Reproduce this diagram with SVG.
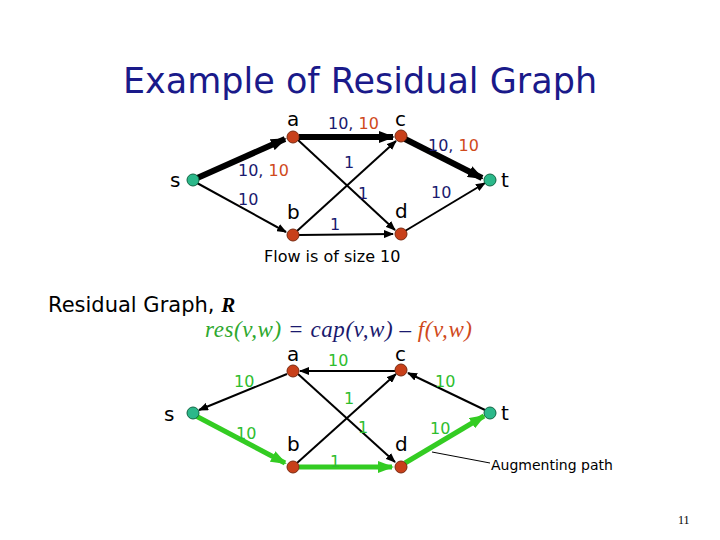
<svg xmlns="http://www.w3.org/2000/svg" width="720" height="540" viewBox="0 0 720 540">
<defs>
<style>
.t{font-family:"DejaVu Sans",sans-serif;}
.lbl{font-family:"DejaVu Sans",sans-serif;font-size:20px;fill:#000;}
.num{font-family:"DejaVu Sans",sans-serif;font-size:16px;}
.nv{fill:#1a1a6e}.rd{fill:#d04a1c}.gr{fill:#2ebd2e}
.e{stroke:#000;stroke-width:2;fill:none;marker-end:url(#ar)}
.eb{stroke:#000;stroke-width:6;fill:none;marker-end:url(#arb)}
.eg{stroke:#33cc22;stroke-width:5;fill:none;marker-end:url(#arg)}
.red{fill:#c8401a;stroke:#7a2a10;stroke-width:1}
.grn{fill:#2bb88a;stroke:#116644;stroke-width:1}
</style>
<marker id="ar" markerWidth="10" markerHeight="8" refX="9" refY="4" orient="auto" markerUnits="userSpaceOnUse"><path d="M0,0L10,4L0,8z" fill="#000"/></marker>
<marker id="arb" markerWidth="16" markerHeight="12" refX="14" refY="6" orient="auto" markerUnits="userSpaceOnUse"><path d="M0,0L16,6L0,12z" fill="#000"/></marker>
<marker id="arg" markerWidth="16" markerHeight="12" refX="14" refY="6" orient="auto" markerUnits="userSpaceOnUse"><path d="M0,0L16,6L0,12z" fill="#33cc22"/></marker>
</defs>
<rect width="720" height="540" fill="#fff"/>
<text class="t" x="360" y="93" font-size="35" fill="#1a1a8a" text-anchor="middle">Example of Residual Graph</text>
<g id="connectors">
<line class="eb" x1="195" y1="179" x2="285" y2="139"/>
<line class="eb" x1="299" y1="137" x2="393" y2="137"/>
<line class="eb" x1="405" y1="139" x2="482" y2="178"/>
<line class="e" x1="197" y1="183" x2="286" y2="232"/>
<line class="e" x1="298" y1="140" x2="395" y2="230"/>
<line class="e" x1="297" y1="231" x2="396" y2="141"/>
<line class="e" x1="299" y1="235" x2="393" y2="234"/>
<line class="e" x1="405" y1="231" x2="485" y2="183"/>
<line class="e" x1="287" y1="374" x2="199" y2="410"/>
<line class="e" x1="395" y1="371" x2="300" y2="371"/>
<line class="e" x1="485" y1="410" x2="408" y2="373"/>
<line class="e" x1="298" y1="374" x2="395" y2="462"/>
<line class="e" x1="297" y1="463" x2="396" y2="374"/>
<line class="eg" x1="196" y1="416" x2="285" y2="463"/>
<line class="eg" x1="299" y1="467" x2="392" y2="467"/>
<line class="eg" x1="405" y1="463" x2="484" y2="416"/>
<line x1="432" y1="452" x2="490" y2="463" stroke="#000" stroke-width="1"/>
</g>
<g id="s1"><circle class="grn" cx="193" cy="180" r="6"/><text class="lbl" x="170" y="187">s</text></g>
<g id="a1"><circle class="red" cx="293" cy="137" r="6"/><text class="lbl" x="287" y="126">a</text></g>
<g id="c1"><circle class="red" cx="401" cy="136" r="6"/><text class="lbl" x="395" y="126">c</text></g>
<g id="t1"><circle class="grn" cx="490" cy="180" r="6"/><text class="lbl" x="501" y="187">t</text></g>
<g id="b1"><circle class="red" cx="293" cy="235" r="6"/><text class="lbl" x="287" y="219">b</text></g>
<g id="d1"><circle class="red" cx="401" cy="234" r="6"/><text class="lbl" x="395" y="218">d</text></g>
<g id="labels1" class="num">
<text x="328" y="129"><tspan class="nv">10, </tspan><tspan class="rd">10</tspan></text>
<text x="428" y="151"><tspan class="nv">10, </tspan><tspan class="rd">10</tspan></text>
<text x="238" y="176"><tspan class="nv">10, </tspan><tspan class="rd">10</tspan></text>
<text class="nv" x="238" y="205">10</text>
<text class="nv" x="344" y="168">1</text>
<text class="nv" x="358" y="199">1</text>
<text class="nv" x="330" y="230">1</text>
<text class="nv" x="431" y="198">10</text>
</g>
<text class="t" x="264" y="262" font-size="16" fill="#000">Flow is of size 10</text>
<text class="t" x="48" y="312" font-size="21" fill="#000">Residual Graph, <tspan font-family="Liberation Serif,serif" font-weight="bold" font-style="italic">R</tspan></text>
<text x="205" y="337" font-family="Liberation Serif,serif" font-style="italic" font-size="23" textLength="267"><tspan fill="#2ea82e">res(v,w)</tspan><tspan fill="#1a1a6e"> = cap(v,w) – </tspan><tspan fill="#d04a1c">f(v,w)</tspan></text>
<g id="s2"><circle class="grn" cx="193" cy="413" r="6"/><text class="lbl" x="164" y="421">s</text></g>
<g id="a2"><circle class="red" cx="293" cy="371" r="6"/><text class="lbl" x="287" y="361">a</text></g>
<g id="c2"><circle class="red" cx="401" cy="370" r="6"/><text class="lbl" x="395" y="361">c</text></g>
<g id="t2"><circle class="grn" cx="490" cy="413" r="6"/><text class="lbl" x="501" y="420">t</text></g>
<g id="b2"><circle class="red" cx="293" cy="467" r="6"/><text class="lbl" x="287" y="451">b</text></g>
<g id="d2"><circle class="red" cx="401" cy="467" r="6"/><text class="lbl" x="395" y="451">d</text></g>
<g id="labels2" class="num">
<text class="gr" x="234" y="387">10</text>
<text class="gr" x="328" y="366">10</text>
<text class="gr" x="435" y="387">10</text>
<text class="gr" x="236" y="439">10</text>
<text class="gr" x="344" y="404">1</text>
<text class="gr" x="358" y="433">1</text>
<text class="gr" x="330" y="467">1</text>
<text class="gr" x="430" y="434">10</text>
</g>
<text class="t" x="491" y="470" font-size="14" fill="#000">Augmenting path</text>
<text x="678" y="524" font-family="Liberation Serif,serif" font-size="12" fill="#000">11</text>
</svg>
